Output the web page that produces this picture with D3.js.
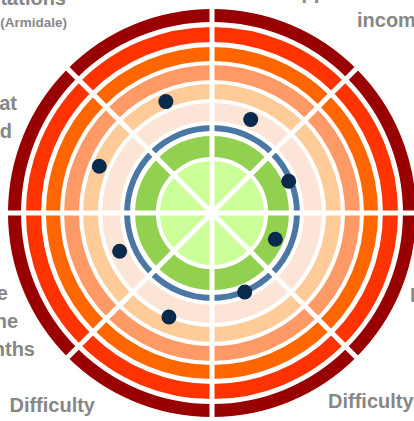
<!DOCTYPE html>
<html>
<head>
<meta charset="utf-8">
<script src="https://cdn.jsdelivr.net/npm/d3@7"></script>
<style>
  html, body { margin: 0; padding: 0; background: #fff; overflow: hidden; }
  text { font-family: "Liberation Sans", Arial, sans-serif; font-weight: bold; fill: #878787; }
</style>
</head>
<body>
<div id="chart"></div>
<script>
// sector labels, clockwise from 12 o'clock
const labelLines = [
  ['Support and', 'income'],
  ['Health'],
  ['Isolation'],
  ['Difficulty', 'paying bills'],
  ['Difficulty', 'finding work'],
  ['Ability to cope', 'with change in the', 'last 12 months'],
  ['Feeling that', 'you are valued'],
  ['Meeting expectations', '(Armidale)']
];

// score of each sector (same units as the bands)
const scores = [4.96, 4.07, 3.36, 4.19, 5.52, 4.9, 5.98, 5.91];

// concentric bands: inner and outer edge in score units
const bandInner = [0, 2.75, 4.02, 4.51, 5.59, 6.52, 7.45, 8.38, 9.36];
const bandOuter = [2.55, 3.77, 4.31, 5.39, 6.32, 7.25, 8.14, 9.12, 10];
const bandColors = ['#ccff99', '#92d050', '#4a77a3', '#fce4d6', '#ffcc99', '#ff9966', '#ff6600', '#ff3300', '#990000'];

const width = 414;
const height = 421;
const cx = 212;
const cy = 213;

// label placement (layout only)
const labelPos = [
  { y: -1, x: [276, 357], anchor: 'start' },
  { y: 120, x: [430], anchor: 'start' },
  { y: 302, x: [410], anchor: 'start' },
  { y: 408, x: [328, 328], anchor: 'start' },
  { y: 412, x: [95, 95], anchor: 'end' },
  { y: 300, x: [8, 18, 35], anchor: 'end' },
  { y: 110, x: [17, 12], anchor: 'end' },
  { y: 5, x: [66, 67], anchor: 'end' }
];

const svg = d3.select('#chart')
  .append('svg')
  .attr('width', width)
  .attr('height', height);

const g = svg.append('g').attr('transform', `translate(${cx},${cy})`);

const r = d3.scaleLinear().domain([0, 10]).range([0, 204]);
const n = scores.length;
const angle = d3.scaleLinear().domain([0, n]).range([0, 2 * Math.PI]);

const arc = d3.arc();
const cells = [];
bandInner.forEach((inner, b) => {
  d3.range(n).forEach(i => {
    cells.push({ i, inner, outer: bandOuter[b], color: bandColors[b] });
  });
});

g.selectAll('path.cell')
  .data(cells)
  .join('path')
  .attr('class', 'cell')
  .attr('d', d => arc({
    innerRadius: r(d.inner),
    outerRadius: r(d.outer),
    startAngle: angle(d.i),
    endAngle: angle(d.i + 1)
  }))
  .attr('fill', d => d.color);

// white sector dividers
const reach = r(10.4);
g.selectAll('line.divider')
  .data(d3.range(n / 2))
  .join('line')
  .attr('class', 'divider')
  .attr('x1', i => reach * Math.sin(angle(i)))
  .attr('y1', i => -reach * Math.cos(angle(i)))
  .attr('x2', i => reach * Math.sin(angle(i + n / 2)))
  .attr('y2', i => -reach * Math.cos(angle(i + n / 2)))
  .attr('stroke', '#fff')
  .attr('stroke-width', 5);

// score dots
g.selectAll('circle.score')
  .data(scores)
  .join('circle')
  .attr('class', 'score')
  .attr('cx', (d, i) => r(d) * Math.sin(angle(i + 0.5)))
  .attr('cy', (d, i) => -r(d) * Math.cos(angle(i + 0.5)))
  .attr('r', 7.5)
  .attr('fill', '#0a2a4c');

// labels
const labels = svg.selectAll('text.label')
  .data(labelLines)
  .join('text')
  .attr('class', 'label')
  .attr('text-anchor', (d, i) => labelPos[i].anchor)
  .style('font-size', '20px');

labels.selectAll('tspan')
  .data((d, i) => d.map((t, k) => ({ t, k, pos: labelPos[i], small: t.startsWith('(') })))
  .join('tspan')
  .attr('x', d => d.pos.x[d.k])
  .attr('y', d => d.pos.y + d.k * (d.small ? 22 : 28))
  .style('font-size', d => (d.small ? '13.5px' : null))
  .text(d => d.t);
</script>
</body>
</html>
